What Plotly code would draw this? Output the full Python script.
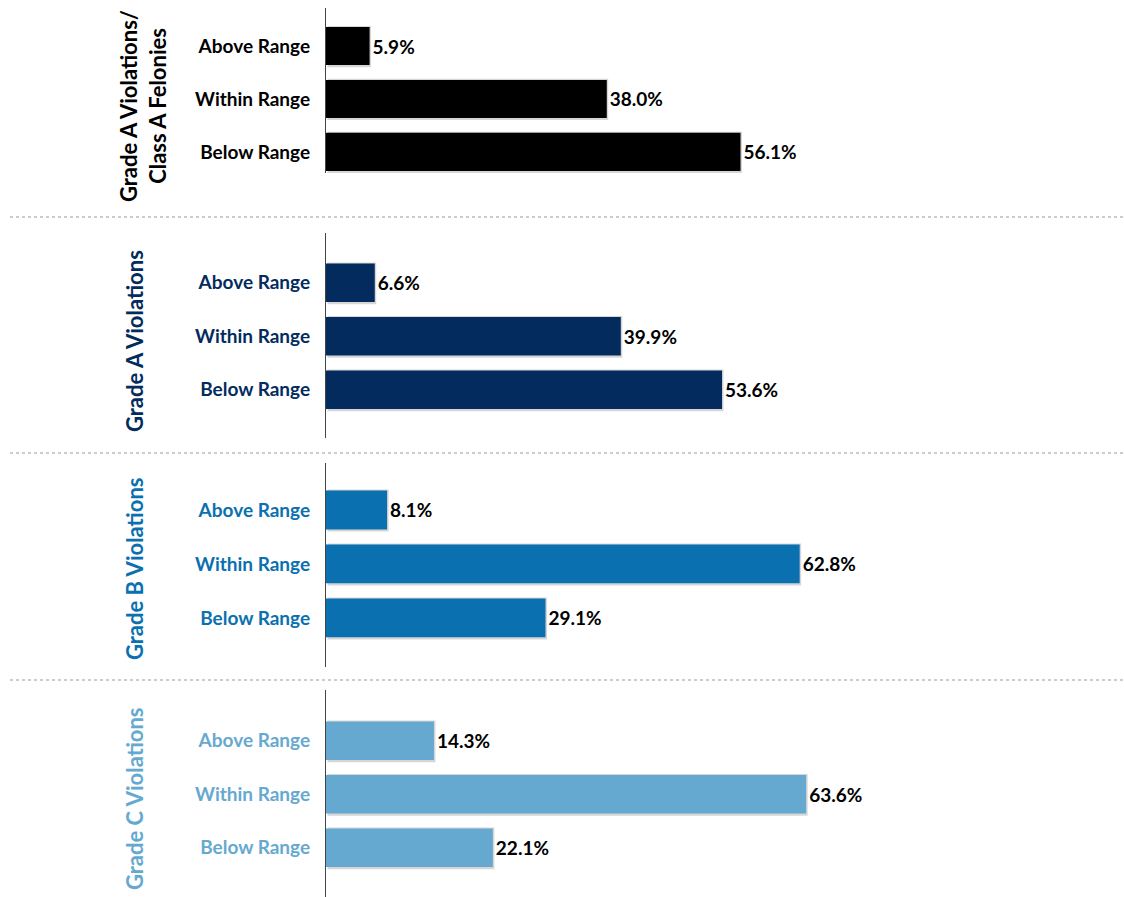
import plotly.graph_objects as go

categories = ["Below Range", "Within Range", "Above Range"]
panel_titles = ["Grade A Violations/<br>Class A Felonies", "Grade A Violations",
                "Grade B Violations", "Grade C Violations"]
grade_a_felonies = [56.1, 38.0, 5.9]
grade_a = [53.6, 39.9, 6.6]
grade_b = [29.1, 62.8, 8.1]
grade_c = [22.1, 63.6, 14.3]
series = [grade_a_felonies, grade_a, grade_b, grade_c]
colors = ["#000000", "#032B5E", "#0A70B0", "#66A9D0"]

W, H = 1124, 897
x_left = 326
# pixel extents of each panel (top, bottom)
panels_px = [(8, 173), (233, 438), (463, 667), (690, 897)]
title_center_px = [106, 341, 569, 799]
title_x_px = [143, 134, 134, 134]
y_ranges = [[-0.40, 2.72], [-0.90, 2.93], [-0.91, 2.87], [-0.92, 2.95]]
x_ranges = [[0, 108.0], [0, 108.0], [0, 105.8], [0, 105.7]]

fig = go.Figure()
FONT = "Lato, 'Open Sans', sans-serif"

for i, vals in enumerate(series):
    n = "" if i == 0 else str(i + 1)
    # soft shadow
    fig.add_trace(go.Bar(
        y=categories, x=vals, orientation="h",
        marker=dict(color="rgba(0,0,0,0.16)", line=dict(width=0)),
        width=0.78, offset=-0.40, base=0.2,
        xaxis="x" + n, yaxis="y" + n, hoverinfo="skip", showlegend=False,
    ))
    fig.add_trace(go.Bar(
        y=categories, x=vals, orientation="h",
        marker=dict(color=colors[i], line=dict(width=0)),
        width=0.72, offset=-0.36,
        text=[f"{v:.1f}%" for v in vals], textposition="outside",
        textfont=dict(family=FONT, size=19, color="#000000", weight="bold"),
        cliponaxis=False, xaxis="x" + n, yaxis="y" + n, showlegend=False,
    ))
    top, bot = panels_px[i]
    dom = [1 - bot / H, 1 - top / H]
    fig.layout["xaxis" + n] = dict(
        domain=[x_left / W, 1], range=x_ranges[i], visible=False,
        anchor="y" + n, fixedrange=True,
    )
    fig.layout["yaxis" + n] = dict(
        domain=dom, range=y_ranges[i], type="category",
        categoryorder="array", categoryarray=categories,
        showline=True, linecolor="#444444", linewidth=1.2,
        showgrid=False, zeroline=False, ticks="", ticklabelstandoff=11,
        tickfont=dict(family=FONT, size=19, color=colors[i], weight="bold"),
        anchor="x" + n,
    )
    fig.add_annotation(
        text=panel_titles[i], textangle=-90, xref="paper", yref="paper",
        x=title_x_px[i] / W, y=1 - title_center_px[i] / H,
        xanchor="center", yanchor="middle",
        showarrow=False, align="center",
        font=dict(family=FONT, size=22, color=colors[i], weight="bold"),
    )

for ypx in [217, 453, 680]:
    fig.add_shape(type="line", xref="paper", yref="paper",
                  x0=10 / W, x1=1, y0=1 - ypx / H, y1=1 - ypx / H,
                  line=dict(color="#9a9a9a", width=1.2, dash="dot"))

fig.update_layout(
    width=W, height=H, margin=dict(l=0, r=0, t=0, b=0),
    barmode="overlay", plot_bgcolor="white", paper_bgcolor="white",
    font=dict(family=FONT),
)

fig.write_html("out.html")
